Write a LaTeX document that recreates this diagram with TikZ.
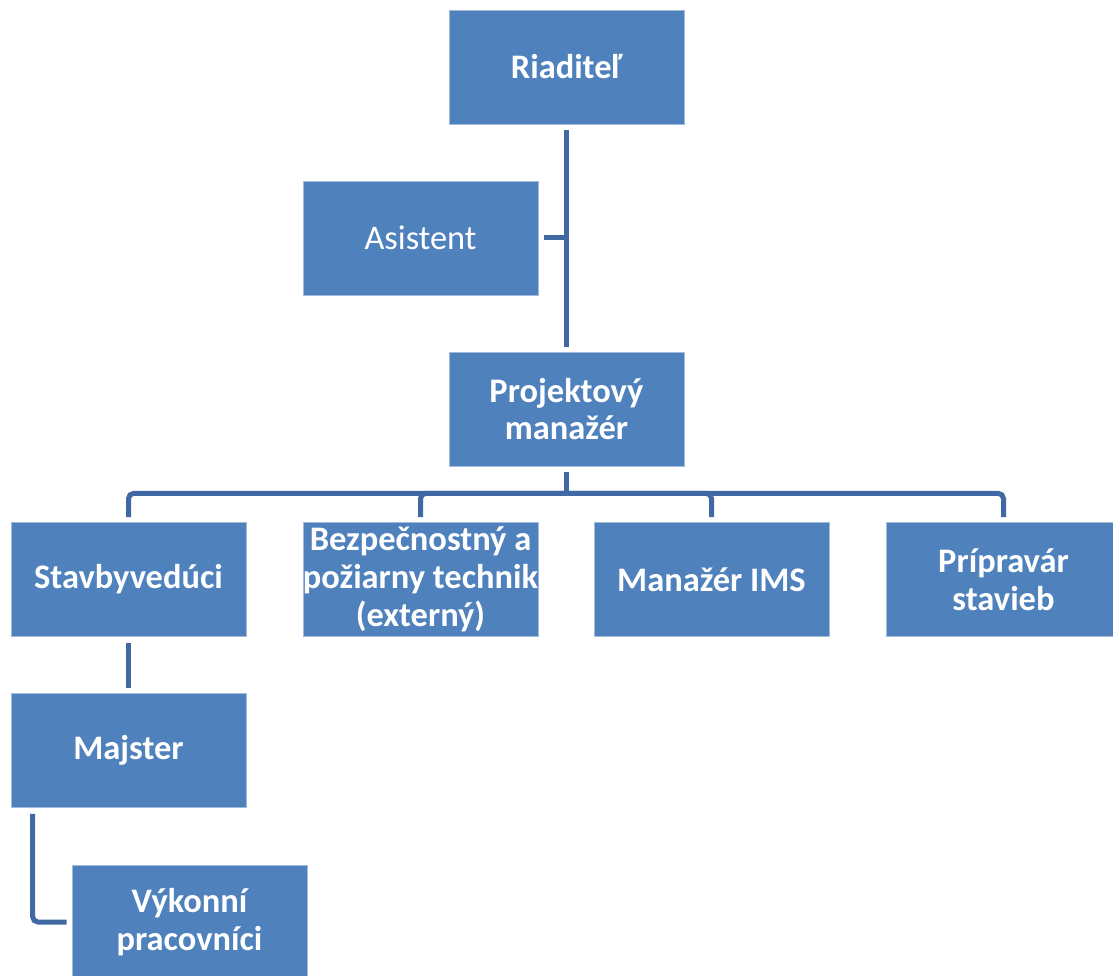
\documentclass[tikz,border=0pt]{standalone}
\usepackage{fontspec}
\setmainfont{Carlito}
\usepackage{xcolor}
\usepackage{tikz}
\usetikzlibrary{calc}

\definecolor{boxblue}{HTML}{4F81BD}
\definecolor{lineblue}{HTML}{4069A3}
\definecolor{edgeblue}{HTML}{A2BADB}

\begin{document}
\begin{tikzpicture}[x = 0.02cm, y = -0.02cm,
		unit/.style = {draw = edgeblue, line width = 0.4pt, fill = boxblue, text = white,
			minimum width = 4.7cm, minimum height = 2.28cm, inner sep = 0pt, align = center,
			font = \fontsize{19.6}{21.5}\selectfont\bfseries},
		plain/.style = {unit, font = \fontsize{19.6}{21.5}\selectfont},
		link/.style = {draw = lineblue, line width = 0.1cm, shorten < = 0.12cm, shorten > = 0.1cm}]
		\useasboundingbox (0,0) rectangle (1113,976);
		\clip (0,0) rectangle (1113,976);
		% boxes
		\node[unit] (riaditel) at (566.5, 67) {Riadite\v{l}};
		\node[plain] (asistent) at (420.5, 238) {Asistent};
		\node[unit] (projekt) at (566.5, 409) {Projektový\\manažér};
		\node[unit] (stavby) at (128.5, 579.5) {Stavbyvedúci};
		\node[unit] (bezp) at (420.5, 579.5) {Bezpečnostný a\\požiarny technik\\(externý)};
		\node[unit] (ims) at (711.5, 579.5) {Manažér IMS};
		\node[unit] (priprav) at (1003.5, 579.5) {Prípravár\\stavieb};
		\node[unit] (majster) at (128.5, 750.5) {Majster};
		\node[unit] (vykonni) at (189.5, 922) {Výkonní\\pracovníci};
		% lines
		\draw[link] (riaditel) -- (projekt);
		\draw[link, shorten > = 0pt] (asistent.east) -- (asistent.east -| riaditel.south);
		\coordinate (bus) at ($(projekt.south) + (0, 27)$);
		\draw[link, shorten > = 0pt] (projekt.south) -- (bus);
		\foreach \n in {stavby, bezp, ims, priprav}{
			\draw[link, shorten < = 0pt, rounded corners = 3] (bus) -| (\n.north);
		}
		\draw[link] (stavby) -- (majster);
		\draw[link, rounded corners = 3] ($(majster.south west) + (22, 0)$) |- (vykonni.west);
	\end{tikzpicture}
\end{document}
